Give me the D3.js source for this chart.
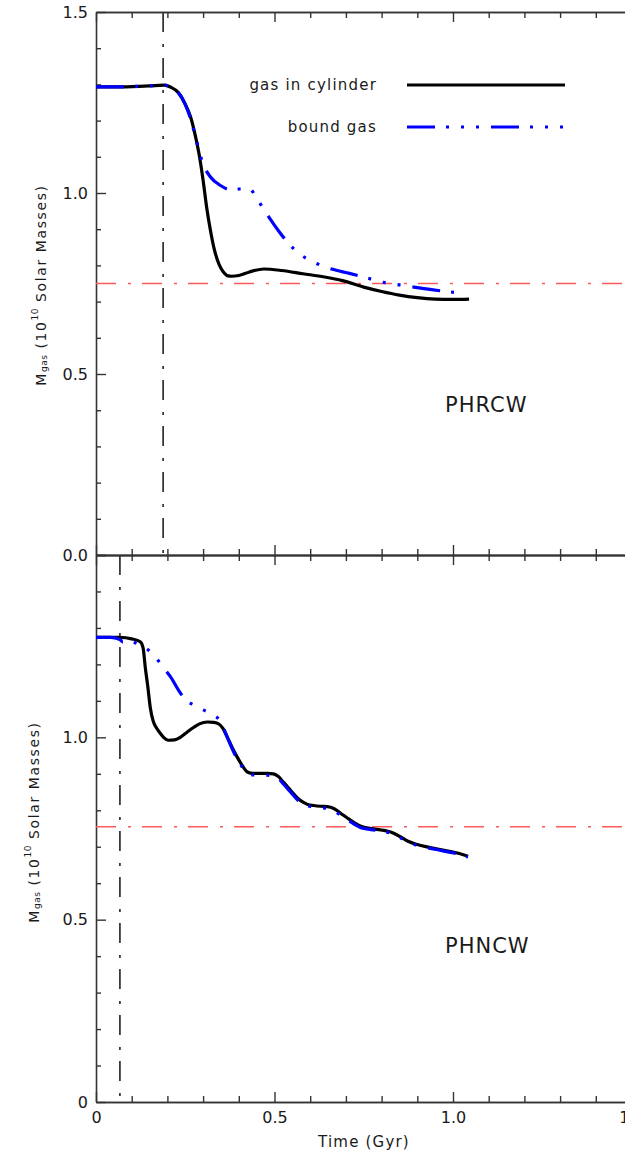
<!DOCTYPE html>
<html><head><meta charset="utf-8">
<script src="https://cdn.jsdelivr.net/npm/d3@7"></script>
<style>
body{margin:0;background:#fff}
svg{display:block}
text{font-family:"DejaVu Sans",sans-serif;fill:#1a1a1a}
</style>
</head><body>
<svg id="c" width="625" height="1156"></svg>
<script>
// ---- data ----
const xMajor = [0, 0.5, 1.0, 1.5];
const xMajorLabels = ["0", "0.5", "1.0", "1.5"];
const xMinor = [0.1,0.2,0.3,0.4,0.6,0.7,0.8,0.9,1.1,1.2,1.3,1.4];
const yMajor = [0, 0.5, 1.0, 1.5];
const yMinor = [0.1,0.2,0.3,0.4,0.6,0.7,0.8,0.9,1.1,1.2,1.3,1.4];
const topYLabels = ["0.0", "0.5", "1.0", "1.5"];
const bottomYLabels = ["0", "0.5", "1.0", ""];

const topCylT = [0,0.05,0.1,0.15,0.19,0.21,0.23,0.25,0.265,0.28,0.29,0.30,0.31,0.32,0.33,0.34,0.35,0.36,0.37,0.38,0.40,0.43,0.47,0.52,0.58,0.64,0.69,0.75,0.80,0.85,0.90,0.95,1.00,1.045];
const topCylV = [1.293,1.293,1.294,1.296,1.298,1.292,1.278,1.245,1.21,1.15,1.10,1.035,0.96,0.90,0.85,0.815,0.792,0.778,0.771,0.770,0.772,0.782,0.790,0.786,0.777,0.768,0.758,0.740,0.728,0.718,0.711,0.707,0.706,0.707];

const topBoundT = [0,0.05,0.1,0.15,0.19,0.21,0.23,0.25,0.265,0.28,0.30,0.32,0.35,0.38,0.41,0.43,0.45,0.47,0.49,0.51,0.54,0.57,0.61,0.66,0.71,0.76,0.80,0.85,0.89,0.94,0.99,1.03];
const topBoundV = [1.293,1.293,1.294,1.296,1.298,1.292,1.278,1.245,1.205,1.15,1.08,1.045,1.02,1.008,1.012,1.012,0.985,0.955,0.925,0.897,0.86,0.832,0.809,0.790,0.778,0.765,0.754,0.746,0.740,0.733,0.727,0.723];

const botCylT = [0,0.04,0.067,0.1,0.124,0.132,0.138,0.145,0.152,0.16,0.17,0.18,0.19,0.202,0.22,0.236,0.255,0.273,0.29,0.312,0.33,0.345,0.355,0.368,0.38,0.396,0.41,0.424,0.44,0.461,0.48,0.497,0.51,0.525,0.545,0.565,0.58,0.593,0.61,0.629,0.648,0.666,0.685,0.705,0.725,0.742,0.77,0.798,0.815,0.834,0.855,0.874,0.90,0.93,0.96,0.986,1.015,1.042];
const botCylV = [1.274,1.274,1.274,1.270,1.262,1.245,1.192,1.14,1.082,1.045,1.025,1.011,0.999,0.992,0.993,1.0,1.014,1.027,1.037,1.042,1.041,1.036,1.025,1.0,0.975,0.945,0.922,0.905,0.901,0.901,0.901,0.900,0.893,0.877,0.855,0.833,0.822,0.816,0.813,0.811,0.810,0.805,0.792,0.778,0.765,0.756,0.750,0.746,0.743,0.737,0.726,0.715,0.706,0.699,0.693,0.688,0.682,0.674];

const botBoundT = [0,0.04,0.067,0.075,0.09,0.104,0.12,0.143,0.171,0.19,0.208,0.236,0.255,0.273,0.29,0.312,0.33,0.345,0.357,0.368,0.38,0.396,0.41,0.424,0.44,0.461,0.48,0.497,0.51,0.525,0.545,0.565,0.58,0.593,0.61,0.629,0.648,0.666,0.685,0.705,0.725,0.742,0.77,0.798,0.815,0.834,0.855,0.874,0.90,0.93,0.96,0.986,1.015,1.042];
const botBoundV = [1.274,1.274,1.268,1.262,1.264,1.261,1.255,1.242,1.214,1.19,1.167,1.122,1.10,1.089,1.08,1.07,1.06,1.048,1.025,1.0,0.972,0.94,0.918,0.902,0.897,0.897,0.896,0.895,0.888,0.872,0.85,0.828,0.818,0.812,0.809,0.807,0.805,0.799,0.786,0.773,0.761,0.752,0.747,0.743,0.740,0.734,0.723,0.713,0.704,0.697,0.691,0.686,0.680,0.672];

const topRefLevel = 0.75, botRefLevel = 0.755;
const topVLine = 0.188, botVLine = 0.067;
const legendLabels = ["gas in cylinder", "bound gas"];
const panelNames = ["PHRCW", "PHNCW"];

// ---- drawing ----
const svg = d3.select("#c");
const x = d3.scaleLinear().domain([0, 1.5]).range([96, 631.5]);
const panels = [
  {y: d3.scaleLinear().domain([0, 1.5]).range([555, 12]), cylT: topCylT, cylV: topCylV, bT: topBoundT, bV: topBoundV, ref: topRefLevel, vl: topVLine, labels: topYLabels, name: panelNames[0], titleX: 41, titleY: 285},
  {y: d3.scaleLinear().domain([0, 1.5]).range([1102, 555]), cylT: botCylT, cylV: botCylV, bT: botBoundT, bV: botBoundV, ref: botRefLevel, vl: botVLine, labels: bottomYLabels, name: panelNames[1], titleX: 34, titleY: 822}
];
const axisColor = "#333";
const dashDot = "20,12,3,11";
const blueDash = "28,11,3,12,3,12,3,12";

function styleAxis(g){
  g.selectAll("path.domain").attr("stroke", axisColor).attr("stroke-width", 1.6);
  g.selectAll(".tick line").attr("stroke", axisColor).attr("stroke-width", 1.4);
  g.selectAll(".tick text").style("font-family", "DejaVu Sans, sans-serif").style("font-size", "16px").attr("fill", "#1a1a1a");
}

panels.forEach((p, i) => {
  const y = p.y;
  const gl = svg.append("g").attr("transform", "translate(96,0)")
    .call(d3.axisLeft(y).tickValues(yMajor).tickSize(-10).tickSizeOuter(0).tickPadding(8)
      .tickFormat((d, k) => p.labels[k]));
  styleAxis(gl);
  const glm = svg.append("g").attr("transform", "translate(96,0)")
    .call(d3.axisLeft(y).tickValues(yMinor).tickSize(-5).tickSizeOuter(0).tickFormat(""));
  styleAxis(glm);
  glm.select("path.domain").remove();

  svg.append("path")
    .attr("d", d3.line()([[x(0), y(p.ref)], [x(1.5), y(p.ref)]]))
    .attr("stroke", "#ff5a5a").attr("stroke-width", 1.6).attr("fill", "none")
    .attr("stroke-dasharray", dashDot);

  svg.append("path")
    .attr("d", d3.line()([[x(p.vl), y(1.5)], [x(p.vl), y(0)]]))
    .attr("stroke", "#222").attr("stroke-width", 1.6).attr("fill", "none")
    .attr("stroke-dasharray", dashDot);

  const line = d3.line().x(d => x(d[0])).y(d => y(d[1])).curve(d3.curveMonotoneX);
  svg.append("path").attr("d", line(p.cylT.map((t, k) => [t, p.cylV[k]])))
    .attr("stroke", "#000").attr("stroke-width", 3.2).attr("fill", "none").attr("stroke-linejoin", "round");
  svg.append("path").attr("d", line(p.bT.map((t, k) => [t, p.bV[k]])))
    .attr("stroke", "#0000ff").attr("stroke-width", 3.2).attr("fill", "none")
    .attr("stroke-dasharray", blueDash);

  svg.append("text").attr("x", 445).attr("y", i === 0 ? 412 : 953)
    .style("font-size", "21px").style("letter-spacing", "1px").text(p.name);

  const tt = svg.append("text")
    .attr("transform", `translate(${p.titleX},${p.titleY}) rotate(-90)`)
    .attr("text-anchor", "middle").attr("dominant-baseline", "central")
    .style("font-size", "14px").style("letter-spacing", "1.6px");
  tt.append("tspan").text("M");
  tt.append("tspan").attr("dy", 3).style("font-size", "9px").style("letter-spacing", "0.5px").text("gas");
  tt.append("tspan").attr("dy", -3).text(" (10");
  tt.append("tspan").attr("dy", -6).style("font-size", "9px").style("letter-spacing", "0.5px").text("10");
  tt.append("tspan").attr("dy", 6).text(" Solar Masses)");
});

const yTop = panels[0].y, yBot = panels[1].y;
let g = svg.append("g").attr("transform", `translate(0,${yTop(1.5)})`)
  .call(d3.axisTop(x).tickValues(xMajor).tickSize(-10).tickSizeOuter(0).tickFormat(""));
styleAxis(g);
g = svg.append("g").attr("transform", `translate(0,${yTop(1.5)})`)
  .call(d3.axisTop(x).tickValues(xMinor).tickSize(-6).tickSizeOuter(0).tickFormat(""));
styleAxis(g);
[d3.axisBottom, d3.axisTop].forEach(ax => {
  let a = svg.append("g").attr("transform", `translate(0,${yTop(0)})`)
    .call(ax(x).tickValues(xMajor).tickSize(-10).tickSizeOuter(0).tickFormat(""));
  styleAxis(a);
  a = svg.append("g").attr("transform", `translate(0,${yTop(0)})`)
    .call(ax(x).tickValues(xMinor).tickSize(-6).tickSizeOuter(0).tickFormat(""));
  styleAxis(a);
});
g = svg.append("g").attr("transform", `translate(0,${yBot(0)})`)
  .call(d3.axisBottom(x).tickValues(xMajor).tickSize(-10).tickSizeOuter(0).tickPadding(10)
    .tickFormat((d, k) => xMajorLabels[k]));
styleAxis(g);
g = svg.append("g").attr("transform", `translate(0,${yBot(0)})`)
  .call(d3.axisBottom(x).tickValues(xMinor).tickSize(-6).tickSizeOuter(0).tickFormat(""));
styleAxis(g);

svg.append("text").attr("x", 364).attr("y", 1147).attr("text-anchor", "middle")
  .style("font-size", "15px").style("letter-spacing", "1.2px").text("Time (Gyr)");

const legY = [85, 127];
svg.append("path").attr("d", d3.line()([[407, legY[0]], [565, legY[0]]]))
  .attr("stroke", "#000").attr("stroke-width", 3.2).attr("fill", "none");
svg.append("path").attr("d", d3.line()([[407, legY[1]], [565, legY[1]]]))
  .attr("stroke", "#0000ff").attr("stroke-width", 3.2).attr("fill", "none")
  .attr("stroke-dasharray", blueDash);
legendLabels.forEach((t, k) => {
  svg.append("text").attr("x", 377).attr("y", legY[k] + 5).attr("text-anchor", "end")
    .style("font-size", "15px").style("letter-spacing", "1.2px").text(t);
});
</script>
</body></html>
